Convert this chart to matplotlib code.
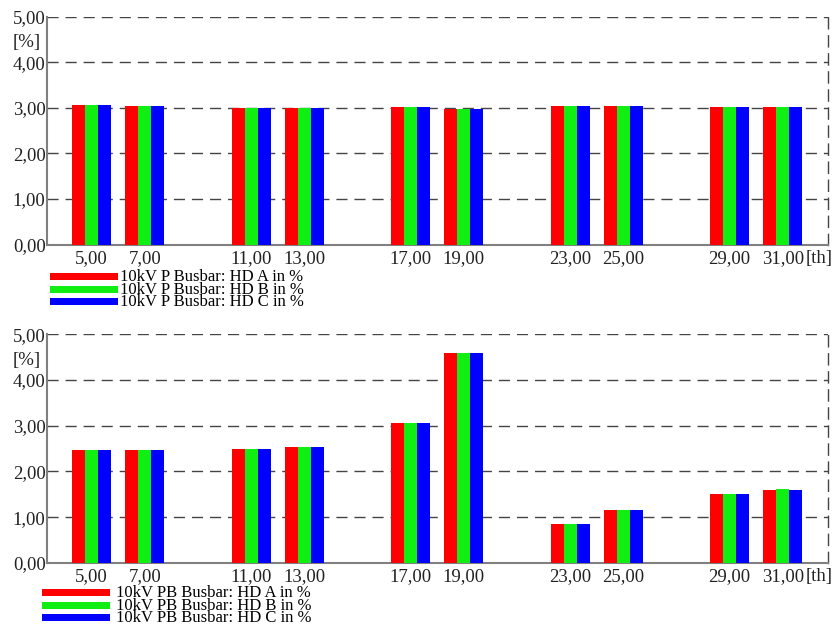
import matplotlib
matplotlib.use("Agg")
import matplotlib.pyplot as plt

plt.rcParams['font.family'] = ['Liberation Serif', 'DejaVu Serif']

harmonics = [5, 7, 11, 13, 17, 19, 23, 25, 29, 31]
xtick_labels = ["5,00", "7,00", "11,00", "13,00", "17,00", "19,00",
                "23,00", "25,00", "29,00", "31,00"]
ytick_values = [0, 1, 2, 3, 4, 5]
ytick_labels = ["0,00", "1,00", "2,00", "3,00", "4,00", "5,00"]

# 10kV P busbar, harmonic distortion per phase in %
p_hd_a = [3.07, 3.05, 3.00, 3.00, 3.01, 2.97, 3.05, 3.03, 3.01, 3.01]
p_hd_b = [3.07, 3.05, 3.00, 3.00, 3.01, 2.97, 3.05, 3.03, 3.01, 3.01]
p_hd_c = [3.07, 3.05, 3.00, 3.00, 3.01, 2.97, 3.05, 3.03, 3.01, 3.01]

# 10kV PB busbar, harmonic distortion per phase in %
pb_hd_a = [2.47, 2.47, 2.50, 2.53, 3.07, 4.60, 0.85, 1.16, 1.51, 1.59]
pb_hd_b = [2.47, 2.47, 2.50, 2.53, 3.07, 4.60, 0.85, 1.16, 1.51, 1.61]
pb_hd_c = [2.47, 2.47, 2.50, 2.53, 3.07, 4.60, 0.85, 1.16, 1.51, 1.59]

colors = ['#ff0000', '#11ee11', '#0000ff']
W, H = 836, 629
bw = 0.49
fs = 13.5       # axis text
leg_fs = 12     # legend text


def draw_panel(rect, series, labels, leg_xy, textpad):
    left, top, right, bottom = rect
    ax = fig.add_axes([left / W, 1 - bottom / H, (right - left) / W, (bottom - top) / H])
    for k, (vals, col) in enumerate(zip(series, colors)):
        xs = [h + (k - 1) * bw for h in harmonics]
        ax.bar(xs, vals, width=bw, color=col, label=labels[k], zorder=3)
    ax.set_xlim(3.32, 32.7)
    ax.set_ylim(0, 5)
    ax.set_yticks(ytick_values)
    ax.set_yticklabels(ytick_labels)
    ax.set_xticks(harmonics)
    ax.set_xticklabels(xtick_labels)
    ax.tick_params(length=0, labelsize=fs, colors='#222222')
    ax.tick_params(axis='x', pad=4)
    ax.tick_params(axis='y', pad=1)
    for y in ytick_values[1:]:
        ax.axhline(y, color='#444444', lw=1.0, dashes=(8, 5), zorder=1)
    ax.spines['top'].set_visible(False)
    ax.spines['right'].set_linestyle((0, (8, 5)))
    ax.spines['right'].set_color('#444444')
    ax.spines['right'].set_linewidth(1.0)
    for s in ('left', 'bottom'):
        ax.spines[s].set_color('#808080')
        ax.spines[s].set_linewidth(1.5)
    ax.text(-0.008, 0.885, "[%]", transform=ax.transAxes, ha='right', va='center',
            fontsize=fs, color='#222222')
    ax.annotate("[th]", xy=(1, 0), xycoords='axes fraction', xytext=(3, -4),
                textcoords='offset points', ha='right', va='top',
                fontsize=fs, color='#222222')
    ax.legend(loc='upper left', bbox_to_anchor=(leg_xy[0] / W, 1 - leg_xy[1] / H),
              bbox_transform=fig.transFigure, frameon=False, fontsize=leg_fs,
              handlelength=4.1, handleheight=0.5, handletextpad=textpad,
              labelspacing=-0.2, borderpad=0, borderaxespad=0)
    leg = ax.get_legend()
    for ln in leg.get_patches():
        ln.set_height(5)
    return ax


fig = plt.figure(figsize=(W / 100, H / 100), dpi=100)

draw_panel((47, 16.7, 828, 244.5), [p_hd_a, p_hd_b, p_hd_c],
           ["10kV P Busbar: HD A in %", "10kV P Busbar: HD B in %",
            "10kV P Busbar: HD C in %"], (50, 269), 0.1)
draw_panel((47, 334.3, 828, 562.8), [pb_hd_a, pb_hd_b, pb_hd_c],
           ["10kV PB Busbar: HD A in %", "10kV PB Busbar: HD B in %",
            "10kV PB Busbar: HD C in %"], (42, 585), 0.35)

fig.savefig("out.png", dpi=100)
